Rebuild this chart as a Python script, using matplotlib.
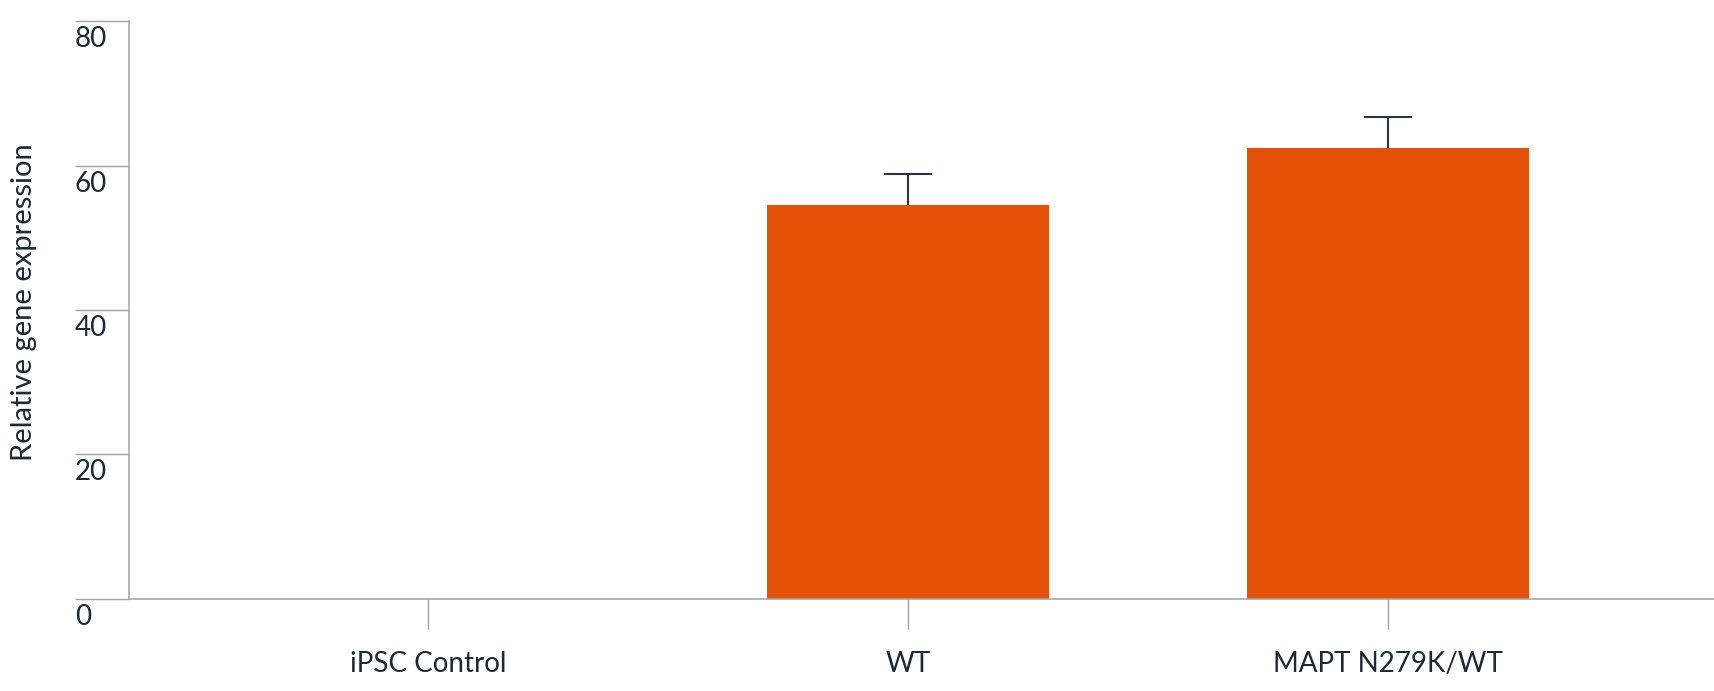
import numpy as np
import matplotlib.pyplot as plt
from matplotlib import transforms

plt.rcParams['font.family'] = ['Lato', 'DejaVu Sans']

# data
categories = ["iPSC Control", "WT", "MAPT N279K/WT"]
expression = [0.0, 54.5, 62.5]
error_up = [0.0, 4.3, 4.2]
y_ticks = [0, 20, 40, 60, 80]

bar_color = "#e4520a"
axis_color = "#a3a3a3"
text_color = "#1e2832"
err_color = "#2d343d"

W, H = 1715, 691
fig = plt.figure(figsize=(W / 100, H / 100), dpi=100)
ax = fig.add_axes([129 / W, 1 - 598.7 / H, 1 - 129 / W, (598.7 - 21.3) / H])

x = np.arange(len(categories))
vals = np.array(expression)
errs = np.array(error_up)
ax.bar(x, vals, width=0.587, color=bar_color, zorder=2)

# upper error bars only (no cap at the bar top)
has_err = errs > 0
_, caps, _ = ax.errorbar(x[has_err], vals[has_err],
                         yerr=[np.zeros(has_err.sum()), errs[has_err]],
                         fmt="none", ecolor=err_color, elinewidth=1.5,
                         capsize=17, capthick=1.5, zorder=3)
caps[0].set_visible(False)

ax.set_xlim(-(428 - 129) / 480, (W - 428) / 480)
ax.set_ylim(0, 80)

for side in ["top", "right"]:
    ax.spines[side].set_visible(False)
for side in ["left", "bottom"]:
    ax.spines[side].set_color(axis_color)
    ax.spines[side].set_linewidth(1.1)

ax.set_xticks(x)
ax.set_xticklabels(categories, fontsize=20, color=text_color)
ax.tick_params(axis="x", direction="out", length=21.6, width=1.0,
               color=axis_color, pad=16)

# y ticks: long outward ticks, labels sit below each tick line
ax.set_yticks(y_ticks)
ax.set_yticklabels([])
ax.tick_params(axis="y", direction="out", length=38.9, width=1.0,
               color=axis_color)
trans = transforms.blended_transform_factory(fig.transFigure, ax.transData)
offset = transforms.ScaledTranslation(0, -5 / 100, fig.dpi_scale_trans)
for t in y_ticks:
    ax.text(75 / W, t, str(t), transform=trans + offset, ha="left", va="top",
            fontsize=20, color=text_color, clip_on=False)

fig.text(24 / W, 1 - 302 / H, "Relative gene expression", rotation=90,
         ha="center", va="center", fontsize=21, color=text_color)

fig.savefig("out.png", dpi=100)
